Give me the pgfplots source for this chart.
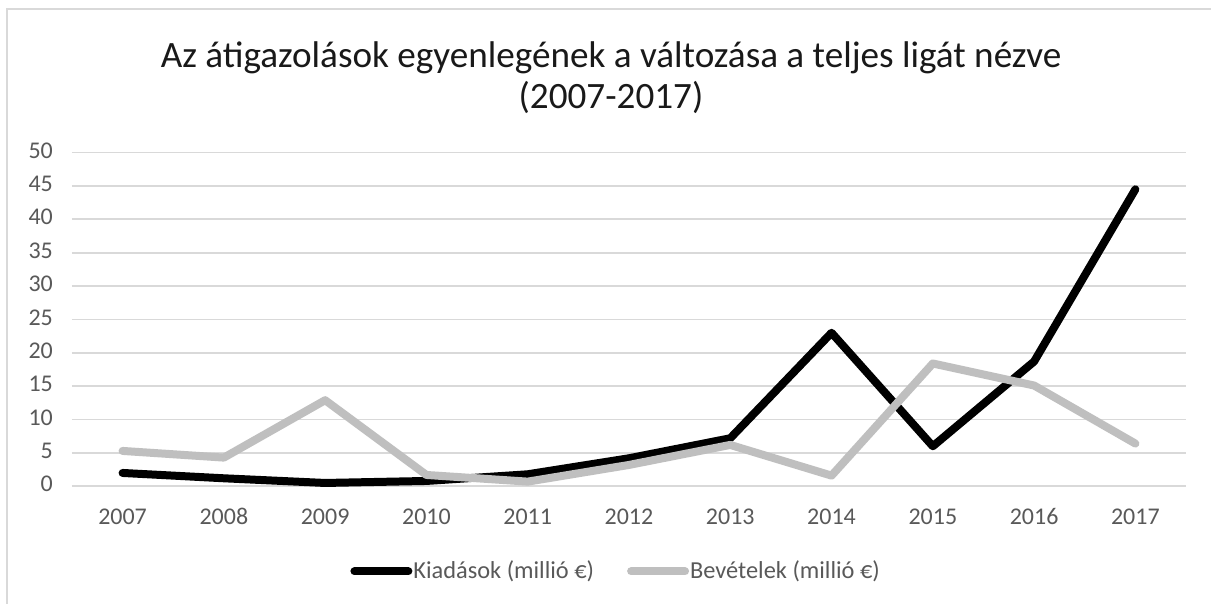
\documentclass[border=0pt]{standalone}
\usepackage{pgfplots}
\pgfplotsset{compat=1.18}
\usepackage{fontspec}
\setmainfont{Carlito}
\definecolor{gridc}{HTML}{D9D9D9}
\definecolor{tickc}{HTML}{595959}
\definecolor{seriesgray}{HTML}{BFBFBF}
\begin{document}
\begin{tikzpicture}
% canvas 1212x604 px, 1px = 0.5pt
\path[fill=white] (0,0) rectangle (606pt,302pt);
\draw[gridc, line width=1pt] (3.5pt,0) -- (3.5pt,297.5pt) -- (606pt,297.5pt);
\node[align=center, font=\fontsize{18.6}{20.5}\selectfont, text=black!90] at (305.75pt,263pt)
  {Az átigazolások egyenlegének a változása a teljes ligát nézve\\(2007-2017)};
\begin{axis}[
  at={(36pt,58.65pt)}, anchor=south west,
  scale only axis, width=557.5pt, height=167pt,
  xmin=-0.5, xmax=10.5, ymin=0, ymax=50,
  axis line style={draw=none},
  xtick={0,...,10},
  xticklabels={2007,2008,2009,2010,2011,2012,2013,2014,2015,2016,2017},
  ytick={0,5,...,50},
  ymajorgrids, grid style={gridc, line width=0.9pt},
  major tick length=0pt,
  typeset ticklabels with strut,
  tick label style={font=\fontsize{12}{14}\selectfont, text=tickc},
  /pgf/number format/assume math mode=true,
  xticklabel style={yshift=-6pt},
  yticklabel style={xshift=-6pt},
  clip=false,
  legend columns=2,
  legend style={draw=none, fill=none, at={(rel axis cs:0.488,-0.255)}, anchor=center,
    font=\fontsize{12.2}{14}\selectfont, text=tickc,
    /tikz/every even column/.append style={column sep=16pt},
    nodes={inner xsep=0.5pt}},
  legend image code/.code={\draw[#1, line cap=round] (0pt,0pt) -- (27pt,0pt);},
]
\addplot[black, line width=4pt, line join=round, line cap=round] coordinates {
  (0,2.0) (1,1.2) (2,0.5) (3,0.8) (4,1.8) (5,4.2) (6,7.2) (7,23.0) (8,6.0) (9,18.7) (10,44.5)};
\addlegendentry{Kiadások (millió €)}
\addplot[seriesgray, line width=4pt, line join=round, line cap=round] coordinates {
  (0,5.3) (1,4.3) (2,12.9) (3,1.7) (4,0.7) (5,3.2) (6,6.2) (7,1.6) (8,18.4) (9,15.1) (10,6.4)};
\addlegendentry{Bevételek (millió €)}
\end{axis}
\end{tikzpicture}
\end{document}
